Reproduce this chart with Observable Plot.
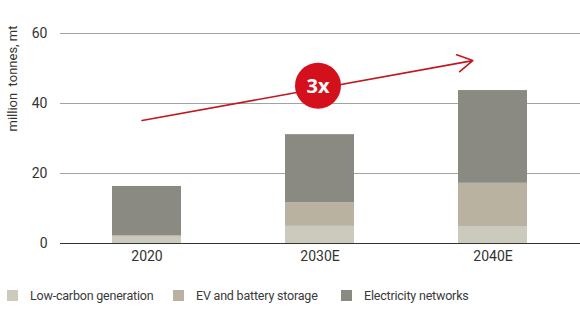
<!DOCTYPE html>
<html>
<head>
<meta charset="utf-8">
<script src="https://cdn.jsdelivr.net/npm/d3@7"></script>
<script src="https://cdn.jsdelivr.net/npm/@observablehq/plot@0.6"></script>
<style>
  body { margin: 0; background: #fff; font-family: Roboto, "Open Sans", sans-serif; }
  #legend { display: flex; align-items: center; padding: 16px 0 0 7px; font-size: 12.5px; color: #3a3a3a; letter-spacing: -0.2px; }
  .item { display: flex; align-items: center; flex: none; }
  .sw { width: 11px; height: 11px; display: inline-block; margin-right: 12px; flex: none; }
</style>
</head>
<body>
<div id="chart"></div>
<div id="legend"></div>
<script>
const years = ["2020", "2030E", "2040E"];
const series = ["Low-carbon generation", "EV and battery storage", "Electricity networks"];
const lowCarbon = [1.8, 4.9, 4.7];
const evBattery = [0.4, 6.7, 12.5];
const networks = [14.1, 19.5, 26.5];
const colors = ["#cbcabd", "#b9b2a1", "#8b8a82"];
const yTicks = [0, 20, 40, 60];
const arrowStart = {year: "2020", value: 35.4};
const arrowEnd = {year: "2040E", value: 53.3};
const badge = {year: "2030E", value: 45.1, label: "3x"};

const rows = [];
const vals = [lowCarbon, evBattery, networks];
years.forEach((yr, i) => series.forEach((s, j) => rows.push({year: yr, series: s, value: vals[j][i]})));

const chart = Plot.plot({
  width: 580,
  height: 272,
  marginLeft: 60,
  marginRight: 0,
  marginTop: 33,
  marginBottom: 29,
  style: {fontFamily: "Roboto, sans-serif", fontSize: "14px", color: "#333"},
  x: {domain: years, paddingInner: 0.6, paddingOuter: 0.3, label: null, tickSize: 0, tickPadding: 8},
  y: {domain: [0, 60], ticks: yTicks, label: null, tickSize: 0, tickPadding: 13},
  color: {domain: series, range: colors},
  marks: [
    Plot.gridY(yTicks.filter(d => d > 0), {stroke: "#a3a3a3", strokeOpacity: 1, strokeWidth: 1}),
    Plot.barY(rows, {x: "year", y: "value", fill: "series", order: series}),
    Plot.ruleY([0], {stroke: "#333", strokeWidth: 1.2}),
    Plot.text(["million  tonnes, mt"], {frameAnchor: "left", rotate: -90, dx: -48, dy: -7, fontSize: 13, fill: "#333"}),
    Plot.arrow([0], {x1: () => arrowStart.year, y1: () => arrowStart.value, x2: () => arrowEnd.year, y2: () => arrowEnd.value,
      stroke: "#c4161f", strokeWidth: 1.6, headLength: 16, bend: 0, insetStart: -5, insetEnd: 20.6}),
    Plot.dot([badge], {x: "year", y: "value", r: 23, fill: "#d4101d", stroke: "none", dx: -2}),
    Plot.text([badge], {x: "year", y: "value", text: "label", fill: "#fff", fontSize: 20, fontWeight: "bold", dx: -2, dy: 1, fontFamily: "'Open Sans', sans-serif"})
  ]
});
document.getElementById("chart").appendChild(chart);

const legend = document.getElementById("legend");
const widths = ["166px", "168px", "auto"];
series.forEach((s, i) => {
  const item = document.createElement("div");
  item.className = "item";
  item.style.width = widths[i];
  const sw = document.createElement("span");
  sw.className = "sw";
  sw.style.background = colors[i];
  item.appendChild(sw);
  const t = document.createElement("span");
  t.textContent = s;
  item.appendChild(t);
  legend.appendChild(item);
});
</script>
</body>
</html>
